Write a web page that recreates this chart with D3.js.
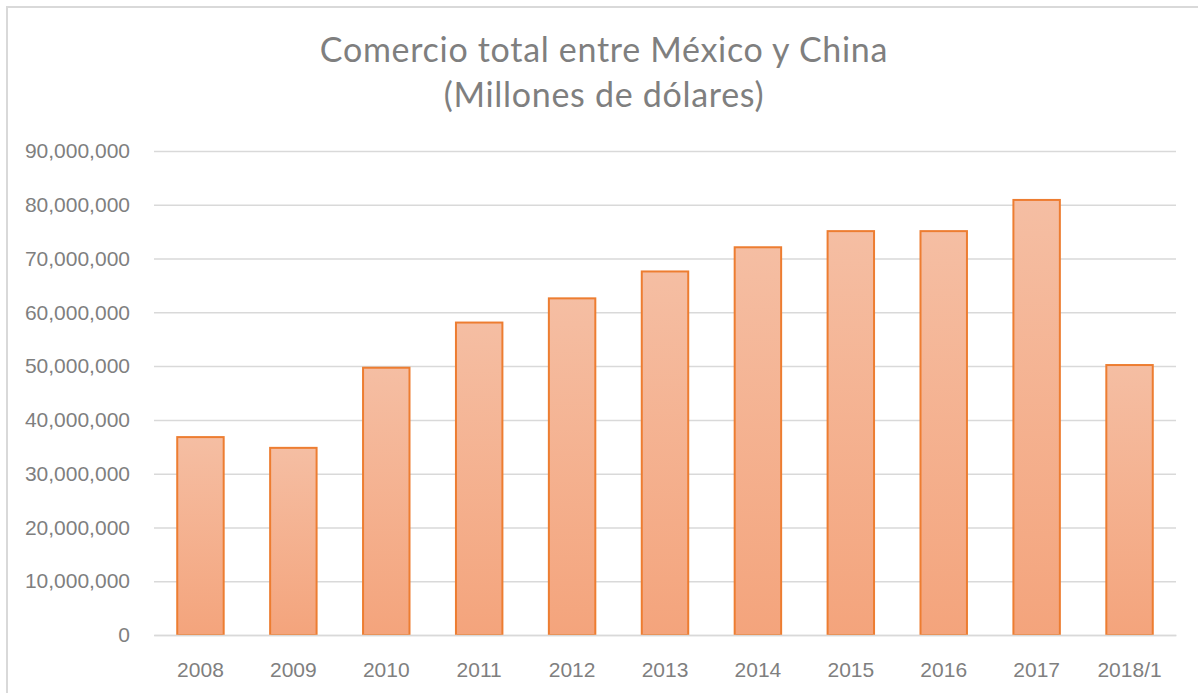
<!DOCTYPE html>
<html>
<head>
<meta charset="utf-8">
<script src="https://cdn.jsdelivr.net/npm/d3@7"></script>
<style>
  html, body { margin: 0; padding: 0; background: #fff; }
  svg { display: block; font-family: Lato, "Open Sans", sans-serif; }
</style>
</head>
<body>
<svg id="chart" width="1198" height="693"></svg>
<script>
// Comercio total entre México y China, miles de dólares por año
const years = ["2008", "2009", "2010", "2011", "2012", "2013", "2014", "2015", "2016", "2017", "2018/1"];
const totals = [36800000, 34800000, 49700000, 58100000, 62600000, 67600000, 72100000, 75100000, 75100000, 80900000, 50200000];
const yTicks = [0, 10000000, 20000000, 30000000, 40000000, 50000000, 60000000, 70000000, 80000000, 90000000];
const titleLines = ["Comercio total entre México y China", "(Millones de dólares)"];

const svg = d3.select("#chart");
const W = 1198, H = 693;
const margin = { left: 154, right: 22, top: 151, bottom: 58 };

// chart frame: top and left edges (the rest falls outside the crop)
svg.append("path")
  .attr("d", `M7,${H} L7,7 L${W},7`)
  .attr("fill", "none")
  .attr("stroke", "#d9d9d9")
  .attr("stroke-width", 2);

const x = d3.scaleBand()
  .domain(years)
  .range([margin.left, W - margin.right])
  .paddingInner(0.5).paddingOuter(0.25);

const y = d3.scaleLinear()
  .domain([0, 90000000])
  .range([H - margin.bottom, margin.top]);

// bar fill gradient
const defs = svg.append("defs");
const grad = defs.append("linearGradient")
  .attr("id", "barFill").attr("x1", 0).attr("y1", 0).attr("x2", 0).attr("y2", 1);
grad.append("stop").attr("offset", "0%").attr("stop-color", "#f5bea3");
grad.append("stop").attr("offset", "100%").attr("stop-color", "#f4a47c");

// gridlines
const yAxis = d3.axisLeft(y)
  .tickValues(yTicks)
  .tickSize(-(W - margin.right - margin.left))
  .tickPadding(24)
  .tickFormat(d3.format(",.0f"));

const gy = svg.append("g")
  .attr("transform", `translate(${margin.left},0)`)
  .call(yAxis);
gy.select(".domain").remove();
gy.selectAll(".tick line").attr("stroke", "#d9d9d9").attr("stroke-width", 1.5);
gy.selectAll(".tick text")
  .attr("fill", "#7f7f7f")
  .attr("font-size", 21);

// bars
svg.append("g").selectAll("rect")
  .data(years.map((yr, i) => ({ yr, v: totals[i] })))
  .join("rect")
  .attr("x", d => x(d.yr))
  .attr("y", d => y(d.v))
  .attr("width", x.bandwidth())
  .attr("height", d => y(0) - y(d.v))
  .attr("fill", "url(#barFill)")
  .attr("stroke", "#ed7d31")
  .attr("stroke-width", 2);

// x axis
const xAxis = d3.axisBottom(x).tickSize(0).tickPadding(27);
const gx = svg.append("g")
  .attr("transform", `translate(0,${y(0)})`)
  .call(xAxis);
gx.select(".domain").attr("stroke", "#d9d9d9").attr("stroke-width", 1.5);
gx.selectAll(".tick text")
  .attr("fill", "#7f7f7f")
  .attr("font-size", 21);

// title
svg.append("text")
  .attr("x", 604).attr("y", 62)
  .attr("text-anchor", "middle")
  .attr("fill", "#7f7f7f")
  .attr("font-size", 34)
  .attr("letter-spacing", 0.7)
  .selectAll("tspan")
  .data(titleLines)
  .join("tspan")
  .attr("x", 604)
  .attr("dy", (d, i) => i === 0 ? 0 : 45)
  .text(d => d);
</script>
</body>
</html>
